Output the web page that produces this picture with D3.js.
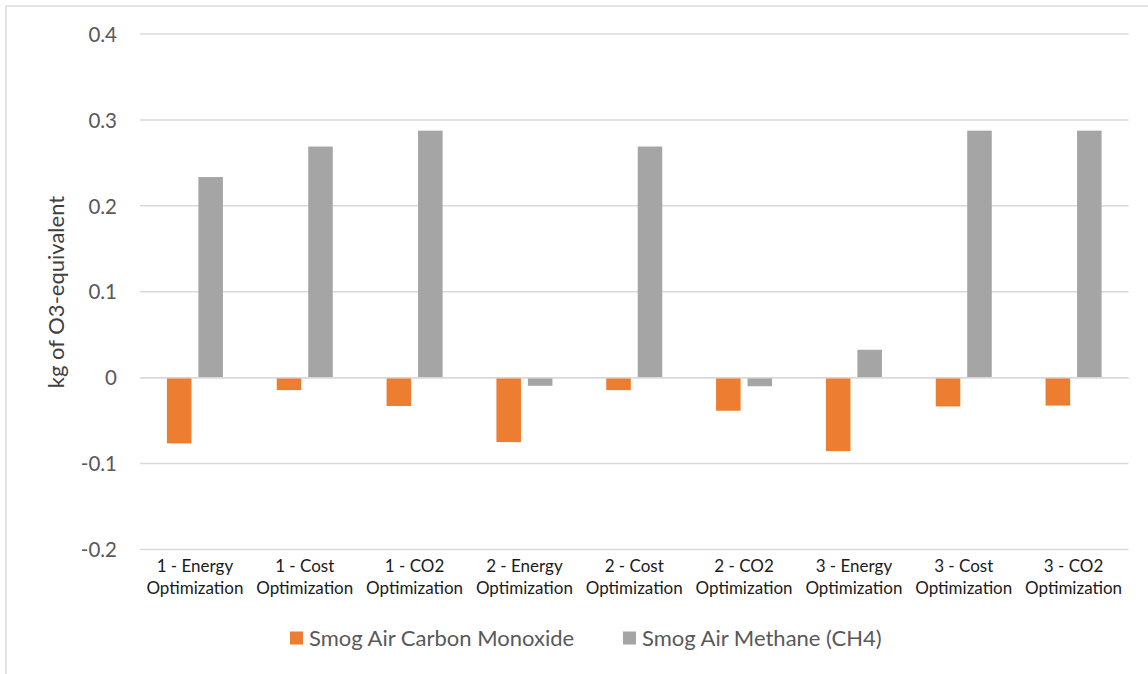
<!DOCTYPE html>
<html>
<head>
<meta charset="utf-8">
<script src="https://cdn.jsdelivr.net/npm/d3@7"></script>
<style>
  html, body { margin: 0; padding: 0; background: #fff; }
  svg { display: block; font-family: Lato, "Open Sans", "Liberation Sans", sans-serif; }
</style>
</head>
<body>
<svg id="chart" width="1148" height="674"></svg>
<script>
// Scenario categories (split into two lines on the axis)
const categories = [
  "1 - Energy Optimization", "1 - Cost Optimization", "1 - CO2 Optimization",
  "2 - Energy Optimization", "2 - Cost Optimization", "2 - CO2 Optimization",
  "3 - Energy Optimization", "3 - Cost Optimization", "3 - CO2 Optimization"
];
const seriesNames = ["Smog Air Carbon Monoxide", "Smog Air Methane (CH4)"];
const carbonMonoxide = [-0.0765, -0.0145, -0.0330, -0.0750, -0.0145, -0.0385, -0.0855, -0.0335, -0.0325];
const methane = [0.2335, 0.2690, 0.2875, -0.0095, 0.2690, -0.0100, 0.0325, 0.2875, 0.2875];
const yTicks = [-0.2, -0.1, 0, 0.1, 0.2, 0.3, 0.4];
const yTickLabels = ["-0.2", "-0.1", "0", "0.1", "0.2", "0.3", "0.4"];
const yTitle = "kg of O3-equivalent";
const colors = ["#ED7D31", "#A5A5A5"];

const svg = d3.select("#chart");

// chart area border (left and top edges)
svg.append("line").attr("x1", 6).attr("x2", 6).attr("y1", 6).attr("y2", 674)
  .attr("stroke", "#d9d9d9").attr("stroke-width", 1.5);
svg.append("line").attr("x1", 6).attr("x2", 1148).attr("y1", 6).attr("y2", 6)
  .attr("stroke", "#d9d9d9").attr("stroke-width", 1.5);

const plot = { left: 140, right: 1128.5, top: 34, bottom: 549.5 };

const y = d3.scaleLinear().domain([-0.2, 0.4]).range([plot.bottom, plot.top]);
const x0 = d3.scaleBand().domain(categories).range([plot.left, plot.right]).paddingInner(0.49).paddingOuter(0.245);
const x1 = d3.scaleBand().domain(seriesNames).range([0, x0.bandwidth()]).paddingInner(0.22);

// gridlines
svg.append("g").selectAll("line").data(yTicks).join("line")
  .attr("x1", plot.left).attr("x2", plot.right)
  .attr("y1", d => y(d)).attr("y2", d => y(d))
  .attr("stroke", "#d9d9d9").attr("stroke-width", 1.5);

// y tick labels
const yAxis = d3.axisLeft(y).tickValues(yTicks).tickSize(0).tickPadding(0)
  .tickFormat((d, i) => yTickLabels[i]);
const yg = svg.append("g").attr("transform", `translate(117,0)`).call(yAxis);
yg.select(".domain").remove();
yg.selectAll("text").attr("fill", "#595959").style("font-size", "20.5px")
  .style("font-family", "Lato, 'Open Sans', sans-serif").attr("dy", "0.35em");

// bars
const rows = categories.map((c, i) => ({ cat: c, vals: [carbonMonoxide[i], methane[i]] }));
const groups = svg.append("g").selectAll("g").data(rows).join("g")
  .attr("transform", d => `translate(${x0(d.cat)},0)`);
groups.selectAll("rect").data(d => d.vals.map((v, k) => ({ v, s: seriesNames[k], k })))
  .join("rect")
  .attr("x", d => x1(d.s))
  .attr("width", x1.bandwidth())
  .attr("y", d => Math.min(y(d.v), y(0)))
  .attr("height", d => Math.abs(y(d.v) - y(0)))
  .attr("fill", d => colors[d.k]);

// zero line drawn over bars
svg.append("line").attr("x1", plot.left).attr("x2", plot.right)
  .attr("y1", y(0)).attr("y2", y(0)).attr("stroke", "#d9d9d9").attr("stroke-width", 1.5);

// category labels (two lines)
const xg = svg.append("g");
categories.forEach(c => {
  const idx = c.indexOf(" Optimization");
  const lines = [c.slice(0, idx), c.slice(idx + 1)];
  const cx = x0(c) + x0.bandwidth() / 2;
  const t = xg.append("text").attr("text-anchor", "middle").attr("fill", "#1a1a1a")
    .style("font-size", "17px");
  lines.forEach((l, j) => {
    t.append("tspan").attr("x", cx).attr("y", 566 + j * 22).attr("dy", "0.35em").text(l);
  });
});

// y-axis title
svg.append("text")
  .attr("transform", `translate(56,${292}) rotate(-90)`)
  .attr("text-anchor", "middle").attr("dy", "0.35em")
  .attr("fill", "#404040").style("font-size", "22px")
  .text(yTitle);

// legend
const legendX = [290, 623];
const lg = svg.append("g");
seriesNames.forEach((s, i) => {
  lg.append("rect").attr("x", legendX[i]).attr("y", 631.5).attr("width", 13).attr("height", 13)
    .attr("fill", colors[i]);
  lg.append("text").attr("x", legendX[i] + 19).attr("y", 638).attr("dy", "0.35em")
    .attr("fill", "#595959").style("font-size", "22px").text(s);
});
</script>
</body>
</html>
